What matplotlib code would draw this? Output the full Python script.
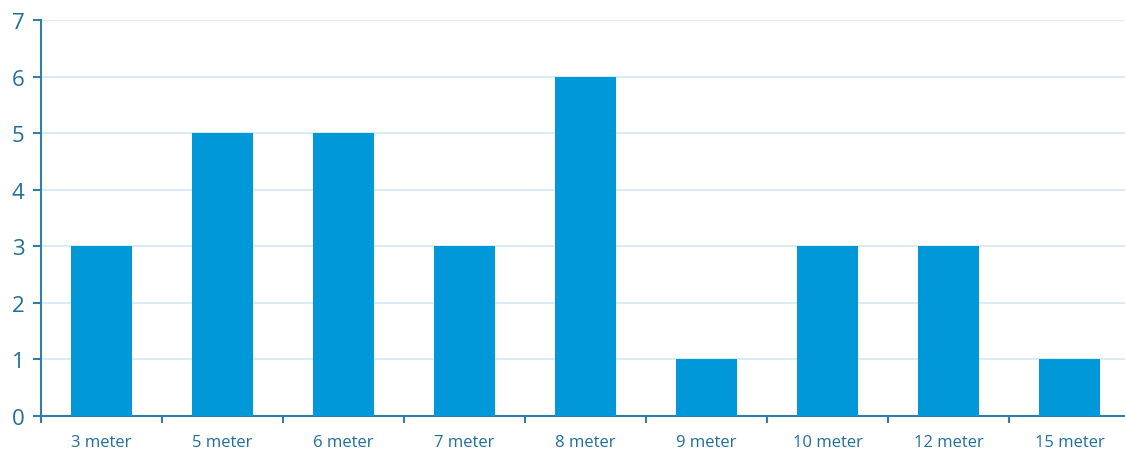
#!/usr/bin/env python3
"""Bar chart: count per height class (meter)."""

import matplotlib

matplotlib.use("Agg")

import matplotlib.pyplot as plt
import numpy as np

CATEGORIES = ["3 meter", "5 meter", "6 meter", "7 meter", "8 meter",
              "9 meter", "10 meter", "12 meter", "15 meter"]
COUNTS = [3, 5, 5, 3, 6, 1, 3, 3, 1]

BAR_COLOR = "#0098d8"
AXIS_COLOR = "#2d7fa8"
TEXT_COLOR = "#1f6f99"
GRID_COLOR = "#d5eaf5"

plt.rcParams["font.family"] = ["Open Sans", "DejaVu Sans"]

fig = plt.figure(figsize=(11.25, 4.52), dpi=100)
ax = fig.add_axes([0.0364, 0.0774, 0.968, 0.8761])

x = np.arange(len(CATEGORIES))
ax.bar(x, COUNTS, width=0.5, color=BAR_COLOR, zorder=3)

ax.set_xlim(-0.5, len(CATEGORIES) - 0.5)
ax.set_ylim(0, 7)
ax.set_yticks(range(0, 8))
ax.yaxis.grid(True, color=GRID_COLOR, linewidth=1.3, zorder=0)
ax.set_axisbelow(True)

# category labels centred under bars, tick marks on category boundaries
ax.set_xticks(x)
ax.set_xticklabels(CATEGORIES, fontsize=12, color=TEXT_COLOR)
ax.tick_params(axis="x", which="major", length=0, pad=13)
ax.set_xticks(np.arange(-0.5, len(CATEGORIES) - 0.4, 1.0), minor=True)
ax.tick_params(axis="x", which="minor", length=5, width=1.5, color=AXIS_COLOR, direction="out")

ax.tick_params(axis="y", length=6, width=1.5, color=AXIS_COLOR, labelsize=16,
               labelcolor=TEXT_COLOR, pad=6)

for side in ("top", "right"):
    ax.spines[side].set_visible(False)
for side in ("left", "bottom"):
    ax.spines[side].set_color(AXIS_COLOR)
    ax.spines[side].set_linewidth(1.5)

fig.savefig("out.png", dpi=100)
